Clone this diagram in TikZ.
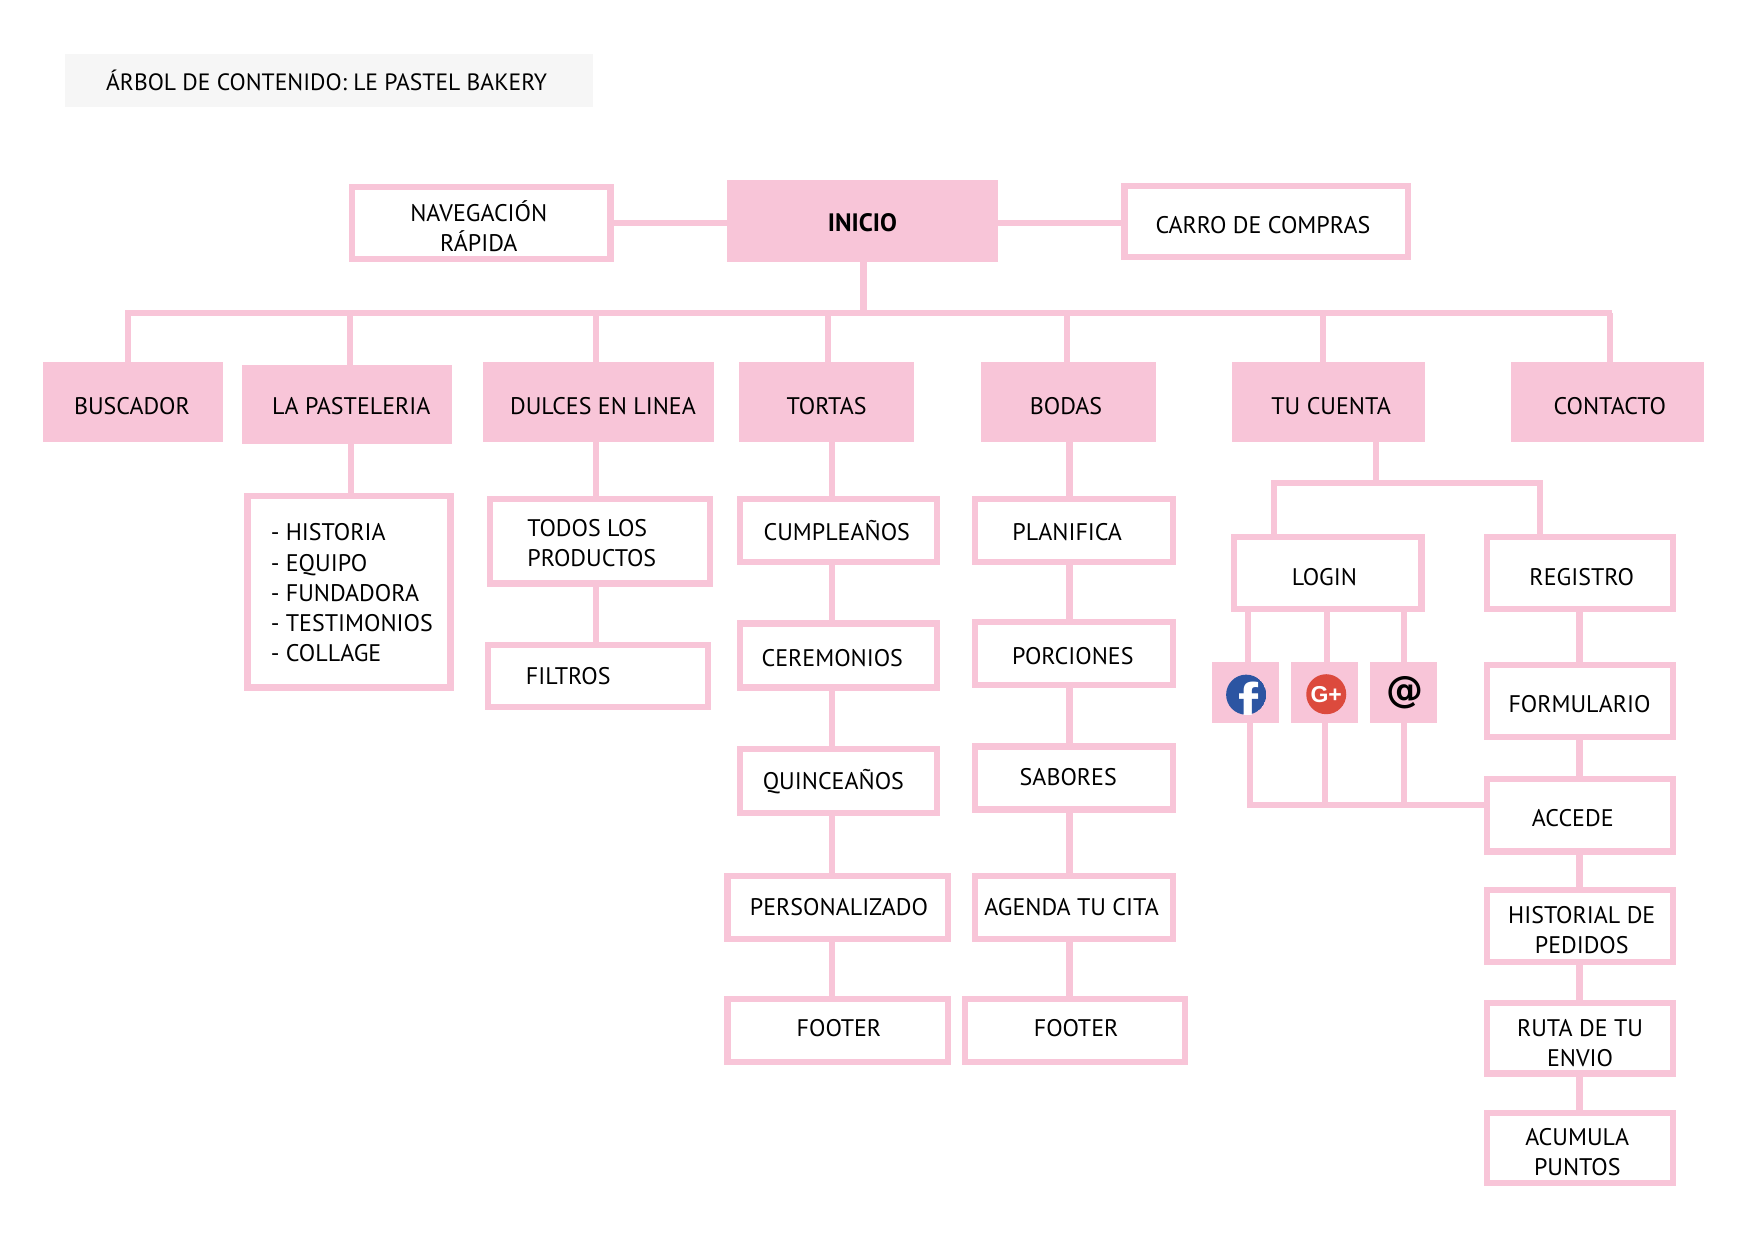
\documentclass[tikz,border=0pt]{standalone}
\usepackage{fontspec}
\setmainfont{PT Sans}
\newfontfamily\iconfont{Liberation Sans}
\newfontfamily\atfont{DejaVu Sans}
\definecolor{rosa}{HTML}{F8C5D8}
\definecolor{gris}{HTML}{F6F6F6}
\definecolor{fbblue}{HTML}{2C55A2}
\definecolor{gored}{HTML}{DC4A3D}
\def\un{0.5593}
\def\colspec{c}
\newcommand\bx[9]{%
  \pgfmathsetmacro\cxx{(#3+#5)/2}%
  \pgfmathsetmacro\cyy{(#4+#6)/2}%
  \pgfmathsetmacro\dxx{2*(#7-\cxx)*\un}%
  \pgfmathsetmacro\dyy{(\cyy-#8)*\un-4.8}%
  \pgfmathsetmacro\www{(#5-#3)*\un-2.6}%
  \pgfmathsetmacro\hhh{(#6-#4)*\un-2.6}%
  \node[#2,minimum width=\www pt,minimum height=\hhh pt] (#1) at (\cxx,\cyy)
    {\makebox[0pt][c]{\hspace*{\dxx pt}\smash{\raisebox{\dyy pt}{\begin{tabular}[c]{@{}\colspec@{}}#9\end{tabular}}}}};%
}
\newcommand\vlink[3]{\coordinate (tmp) at (#3,0); \draw[link] (#1.south -| tmp) -- (#2.north -| tmp);}
\newcommand\hlink[3]{\coordinate (tmp) at (0,#3); \draw[link] (#1.east |- tmp) -- (#2.west |- tmp);}
\newcommand\drop[2]{\coordinate (tmp) at (#1,280); \draw[link] (tmp) -- (#2.north -| tmp);}
\tikzset{
  x=0.5593pt,y=-0.5593pt,
  every node/.style={inner sep=0pt,outer sep=0pt,text=black,font=\fontsize{12}{15.1}\selectfont},
  outl/.style={draw=rosa,line width=3.1pt,fill=white,shape=rectangle},
  solid box/.style={draw=rosa,line width=2.6pt,fill=rosa,shape=rectangle},
  titlebox/.style={draw=gris,line width=2.6pt,fill=gris,shape=rectangle,font=\fontsize{11.8}{15.1}\selectfont},
  link/.style={draw=rosa,line width=3.1pt},
}
\begin{document}
\begin{tikzpicture}
\useasboundingbox (0,0) rectangle (1568,1108.5);
\bx{title}{titlebox}{58}{48}{530}{96}{292}{72}{ÁRBOL DE CONTENIDO: LE PASTEL BAKERY}
\bx{nav}{outl}{312}{165}{548}{234}{428}{202.5}{NAVEGACIÓN\\RÁPIDA}
\bx{inicio}{solid box,font=\fontsize{12.6}{15.1}\selectfont}{650}{161}{892}{234}{771}{198}{\textbf{INICIO}}
\bx{carro}{outl}{1003}{164}{1261}{232}{1129}{200}{CARRO DE COMPRAS}
\hlink{nav}{inicio}{199.6}
\hlink{inicio}{carro}{199.6}
%
\bx{buscador}{solid box}{38}{324}{199}{395}{118}{362}{BUSCADOR}
\bx{pasteleria}{solid box}{216}{326}{404}{397}{314}{362}{LA PASTELERIA}
\bx{dulces}{solid box}{432}{324}{638}{395}{539}{362}{DULCES EN LINEA}
\bx{tortas}{solid box}{661}{324}{817}{395}{739}{362}{TORTAS}
\bx{bodas}{solid box}{877}{324}{1033}{395}{953}{362}{BODAS}
\bx{cuenta}{solid box}{1101}{324}{1274}{395}{1190}{362}{TU CUENTA}
\bx{contacto}{solid box}{1351}{324}{1523}{395}{1439}{362}{CONTACTO}
\coordinate (busL) at (112,280);
\coordinate (busR) at (1441,280);
\coordinate (tmp) at (772,280);
\draw[link] (inicio.south -| tmp) -- (tmp);
\draw[link] (busL) -- (busR);
\drop{114.5}{buscador}
\drop{313}{pasteleria}
\drop{533}{dulces}
\drop{740}{tortas}
\drop{954}{bodas}
\drop{1183}{cuenta}
\drop{1439}{contacto}
%
\def\colspec{l}
\bx{lista}{outl}{219}{441}{405}{617}{314.5}{529}{- HISTORIA\\- EQUIPO\\- FUNDADORA\\- TESTIMONIOS\\- COLLAGE}
\bx{todos}{outl}{436}{444}{637}{524}{529}{484.5}{TODOS LOS\\PRODUCTOS}
\bx{filtros}{outl}{434}{574}{635}{634}{508}{603}{FILTROS}
\def\colspec{c}
\vlink{pasteleria}{lista}{314}
\vlink{dulces}{todos}{533}
\vlink{todos}{filtros}{533}
%
\bx{cumple}{outl}{659}{444}{840}{505}{748}{475}{CUMPLEAÑOS}
\bx{ceremonios}{outl}{659}{555}{840}{617}{744}{587}{CEREMONIOS}
\bx{quince}{outl}{659}{667}{840}{729}{745}{697}{QUINCEAÑOS}
\bx{personal}{outl}{648}{781}{850}{842}{750}{810}{PERSONALIZADO}
\bx{footerA}{outl}{648}{891}{850}{952}{750}{918}{FOOTER}
\vlink{tortas}{cumple}{744}
\vlink{cumple}{ceremonios}{744}
\vlink{ceremonios}{quince}{744}
\vlink{quince}{personal}{744}
\vlink{personal}{footerA}{744}
%
\bx{planifica}{outl}{869}{444}{1051}{505}{954}{475}{PLANIFICA}
\bx{porciones}{outl}{869}{554}{1051}{615}{959}{585}{PORCIONES}
\bx{sabores}{outl}{869}{665}{1051}{726}{955}{694}{SABORES}
\bx{agenda}{outl}{869}{781}{1051}{842}{958}{810}{AGENDA TU CITA}
\bx{footerB}{outl}{860}{891}{1062}{952}{962}{918}{FOOTER}
\vlink{bodas}{planifica}{956}
\vlink{planifica}{porciones}{956}
\vlink{porciones}{sabores}{956}
\vlink{sabores}{agenda}{956}
\vlink{agenda}{footerB}{956}
%
\bx{login}{outl}{1101}{478}{1273}{547}{1184}{515}{LOGIN}
\bx{registro}{outl}{1327}{478}{1498}{547}{1414}{515}{REGISTRO}
\bx{formulario}{outl}{1327}{592}{1498}{661}{1412}{628}{FORMULARIO}
\bx{accede}{outl}{1327}{694}{1498}{763.5}{1406}{730}{ACCEDE}
\bx{historial}{outl}{1327}{793}{1498}{862}{1414}{830.5}{HISTORIAL DE\\PEDIDOS}
\bx{ruta}{outl}{1327}{894}{1498}{962}{1412.5}{931.5}{RUTA DE TU\\ENVIO}
\bx{acumula}{outl}{1327}{993}{1498}{1060}{1410}{1028.5}{ACUMULA\\PUNTOS}
\coordinate (tjoinA) at (1139,432);
\coordinate (tjoinB) at (1377,432);
\coordinate (tmp) at (1230,0);
\draw[link] (cuenta.south -| tmp) -- (tmp |- tjoinA);
\draw[link] (login.north -| tjoinA) -- (tjoinA) -- (tjoinB) -- (registro.north -| tjoinB);
\vlink{registro}{formulario}{1412}
\vlink{formulario}{accede}{1412}
\vlink{accede}{historial}{1412}
\vlink{historial}{ruta}{1412}
\vlink{ruta}{acumula}{1412}
%
\node[solid box,minimum width=30.9pt,minimum height=27.6pt] (fb) at (1113.7,619) {};
\node[solid box,minimum width=30.9pt,minimum height=27.6pt] (gp) at (1184,619) {};
\node[solid box,minimum width=30.9pt,minimum height=27.6pt,font=\atfont\fontsize{18.5}{20}\selectfont\bfseries] (at) at (1254.5,619) {\makebox[0pt][c]{\hspace*{2pt}\smash{\raisebox{-5pt}{@}}}};
\vlink{login}{fb}{1115.7}
\vlink{login}{gp}{1186.5}
\vlink{login}{at}{1255}
\coordinate (jA) at (1117.7,719.6);
\coordinate (jB) at (1184.7,719.6);
\coordinate (jC) at (1255,719.6);
\draw[link] (fb.south -| jA) -- (jA) -- (accede.west |- jA);
\draw[link] (gp.south -| jB) -- (jB);
\draw[link] (at.south -| jC) -- (jC);
%
\begin{scope}
\clip (1114,621) circle (17.9);
\fill[fbblue] (1114,621) circle (17.9);
\node[text=white,font=\iconfont\fontsize{30}{30}\selectfont\bfseries] (ff) at (1116,629) {f};
\end{scope}
\node[circle,fill=gored,minimum size=20pt,text=white,font=\iconfont\fontsize{11.5}{12}\selectfont\bfseries] (gg) at (1185.6,620.6) {G+};
\end{tikzpicture}
\end{document}
